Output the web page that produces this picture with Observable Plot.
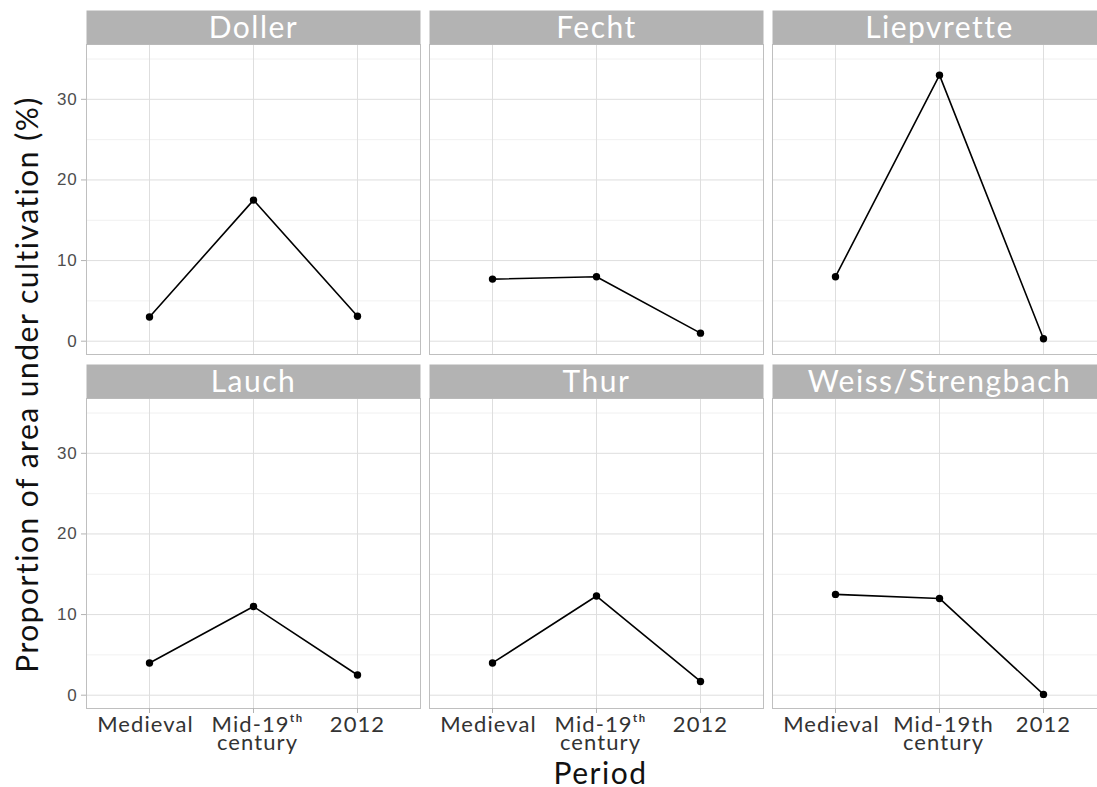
<!DOCTYPE html>
<html>
<head>
<meta charset="utf-8">
<script src="https://cdn.jsdelivr.net/npm/d3@7"></script>
<script src="https://cdn.jsdelivr.net/npm/@observablehq/plot@0.6"></script>
<style>
  html, body { margin: 0; padding: 0; background: #ffffff; overflow: hidden; }
  #chart { width: 1106px; height: 787px; }
  #chart svg text { letter-spacing: 0.05em; }
</style>
</head>
<body>
<div id="chart"></div>
<script>
// ---- data ----
const regions = ["Doller", "Fecht", "Liepvrette", "Lauch", "Thur", "Weiss/Strengbach"];
const periods = ["Medieval", "Mid-19th century", "2012"];
const medieval = [3.0, 7.7, 8.0, 4.0, 4.0, 12.5];
const mid19th  = [17.5, 8.0, 33.0, 11.0, 12.3, 12.0];
const y2012    = [3.1, 1.0, 0.3, 2.5, 1.7, 0.1];
const tickLabelsSup   = ["Medieval", "Mid-19\u1D57\u02B0\ncentury", "2012"];
const tickLabelsPlain = ["Medieval", "Mid-19th\ncentury", "2012"];
const yTicks = [0, 10, 20, 30];
const yMinor = [5, 15, 25, 35];
const xTitle = "Period";
const yTitle = "Proportion of area under cultivation (%)";

// ---- derived tables ----
const series = [medieval, mid19th, y2012];
const panels = regions.map((region, i) => ({region, col: i % 3, row: Math.floor(i / 3)}));
const table = panels.flatMap(p => periods.map((period, j) => ({
  region: p.region, col: p.col, row: p.row, period, value: series[j][regions.indexOf(p.region)]
})));
const bottomRow = Math.max(...panels.map(p => p.row));
const tickData = panels.filter(p => p.row === bottomRow).flatMap(p =>
  periods.map((period, j) => ({
    col: p.col, row: p.row, period,
    label: (p.region === "Weiss/Strengbach" ? tickLabelsPlain : tickLabelsSup)[j]
  })));

// small horizontal nudges of the tick labels, as in the reference
const labelNudge = [-4, 4, 0];
const tickLabelMarks = periods.map((period, j) =>
  Plot.text(tickData.filter(d => d.period === period), {
    fx: "col", fy: "row", x: "period", text: "label", frameAnchor: "bottom",
    lineAnchor: "top", dy: 10, dx: labelNudge[j], fontSize: 22, fill: "#333333", lineHeight: 0.84
  }));

const grid = "#dedede";
const chart = Plot.plot({
  width: 1106,
  height: 787,
  marginLeft: 85,
  marginRight: 0,
  marginTop: 44,
  marginBottom: 79,
  style: {background: "#ffffff", fontFamily: "Lato, 'Open Sans', sans-serif"},
  fx: {domain: [0, 1, 2], paddingInner: 0.027656, paddingOuter: 0, axis: null},
  fy: {domain: [0, 1], paddingInner: 0.124294, paddingOuter: 0, axis: null},
  x: {type: "point", domain: periods, padding: 0.6},
  y: {domain: [-1.65, 36.8]},
  marks: [
    Plot.gridY(yMinor, {stroke: "#ececec", strokeOpacity: 1, strokeWidth: 0.8}),
    Plot.gridY(yTicks, {stroke: grid, strokeOpacity: 1, strokeWidth: 1}),
    Plot.gridX(periods, {stroke: grid, strokeOpacity: 1, strokeWidth: 1}),
    Plot.frame({stroke: "#bfbfbf", strokeWidth: 1}),
    Plot.frame({fill: "#b3b3b3", stroke: "none", insetTop: -34, insetBottom: 310}),
    Plot.text(panels, {fx: "col", fy: "row", text: "region", frameAnchor: "top",
      dy: -16, fill: "white", fontSize: 30, lineAnchor: "middle"}),
    Plot.axisY(yTicks, {tickSize: 5, tickPadding: 4, stroke: "#b3b3b3", fill: "#4d4d4d",
      fontSize: 17, fontFamily: "'Liberation Sans', Arial, sans-serif", label: null}),
    Plot.axisX(periods, {tickSize: 5, stroke: "#b3b3b3", fill: "none", label: null}),
    ...tickLabelMarks,
    Plot.line(table, {fx: "col", fy: "row", x: "period", y: "value", z: "region",
      stroke: "black", strokeWidth: 1.6}),
    Plot.dot(table, {fx: "col", fy: "row", x: "period", y: "value", r: 3.7, fill: "black"}),
    Plot.text([xTitle], {facet: "super", text: d => d, frameAnchor: "bottom", dy: 66,
      dx: 4, fontSize: 30, fill: "#111111", lineAnchor: "middle"}),
    Plot.text([yTitle], {facet: "super", text: d => d, frameAnchor: "left", textAnchor: "middle",
      rotate: -90, dx: -58, dy: 8, fontSize: 30, fill: "#111111", lineAnchor: "middle"})
  ]
});
document.getElementById("chart").appendChild(chart);
</script>
</body>
</html>
